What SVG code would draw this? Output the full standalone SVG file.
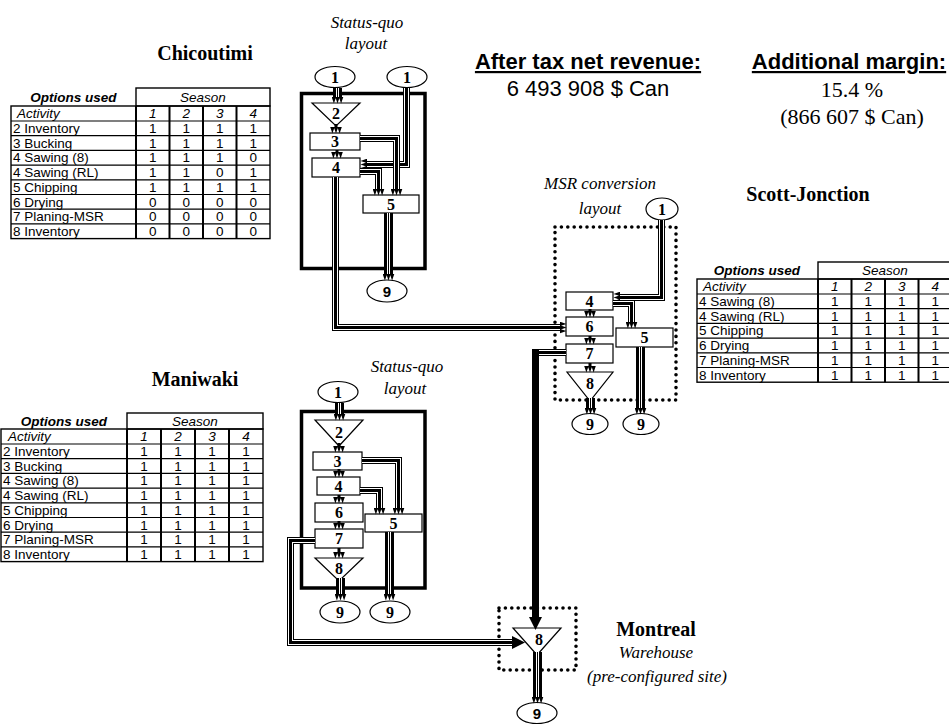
<svg xmlns="http://www.w3.org/2000/svg" width="949" height="725" viewBox="0 0 949 725">
<style>
.bg{fill:#fff}
.tb{fill:none;stroke:#000;stroke-width:1.4}
.tv{stroke:#000;stroke-width:2}
.th{stroke:#000;stroke-width:1.2}
.tt{font-family:"Liberation Sans",Arial,sans-serif;font-size:13.5px;fill:#000}
.c{text-anchor:middle}
.i{font-style:italic}
.b{font-weight:bold}
.ti{font-family:"Liberation Serif","Times New Roman",serif;font-weight:bold;font-size:20px;text-anchor:middle}
.it{font-family:"Liberation Serif","Times New Roman",serif;font-style:italic;font-size:17px;text-anchor:middle}
.hd{font-family:"Liberation Sans",Arial,sans-serif;font-weight:bold;font-size:22px;text-anchor:middle;text-decoration:underline}
.sa{font-family:"Liberation Sans",Arial,sans-serif;font-size:22px;text-anchor:middle}
.se{font-family:"Liberation Serif","Times New Roman",serif;font-size:22px;text-anchor:middle}
.fr{fill:none;stroke:#000;stroke-width:3.5}
.dt{fill:none;stroke:#000;stroke-width:3.6;stroke-dasharray:0 6.4;stroke-linecap:round}
.nd{fill:#fff;stroke:#000;stroke-width:1.2}
.nl{font-family:"Liberation Serif","Times New Roman",serif;font-weight:bold;font-size:16px;text-anchor:middle}
.ns{font-family:"Liberation Sans",Arial,sans-serif;font-weight:bold;font-size:15px;text-anchor:middle}
.k1{fill:none;stroke:#000;stroke-width:9}
.k2{fill:none;stroke:#fff;stroke-width:3}
.k3{fill:none;stroke:#000;stroke-width:1}
.ks{fill:none;stroke:#000;stroke-width:7}
.t1{fill:none;stroke:#000;stroke-width:7}
.t2{fill:none;stroke:#fff;stroke-width:5}
.t3{fill:none;stroke:#000;stroke-width:3}
.sh{fill:none;stroke:#000;stroke-width:3}
.ma{marker-end:url(#ah)}
.mb{marker-end:url(#big)}
</style>
<defs>
<marker id="ah" viewBox="0 -6 7 12" refX="0" refY="0" markerWidth="7" markerHeight="12" markerUnits="userSpaceOnUse" orient="auto">
<path d="M0,-5.8 L6.5,-3.6 L0,-1.4 Z M0,-2.2 L6.5,0 L0,2.2 Z M0,1.4 L6.5,3.6 L0,5.8 Z" fill="#000"/>
</marker>
<marker id="big" viewBox="0 -7 13 14" refX="0" refY="0" markerWidth="13" markerHeight="14" markerUnits="userSpaceOnUse" orient="auto">
<path d="M0,-6.5 L13,0 L0,6.5 Z" fill="#000"/>
</marker>
<path id="p_c1" d="M337.5,88 V97"/>
<path id="p_c4" d="M406.5,88 V164.5 H367"/>
<path id="p_c5" d="M360,138.5 H396.5 V189"/>
<path id="p_c6" d="M360,171.5 H378.5 V189"/>
<path id="p_c7" d="M388.5,213 V274"/>
<path id="p_c8" d="M335.5,177 V327.5 H560"/>
<path id="p_s1" d="M661.5,220 V297.5 H620"/>
<path id="p_s2" d="M613,303.5 H631.5 V322"/>
<path id="p_s6" d="M590.5,398 V408"/>
<path id="p_s7" d="M640.5,347 V408"/>
<path id="p_s8" d="M566,352.5 H538"/>
<path id="p_m1" d="M339.5,403 V414"/>
<path id="p_m7" d="M340.5,578 V594"/>
<path id="p_m8" d="M362,460.5 H398.5 V508"/>
<path id="p_m9" d="M360,490.5 H379.5 V508"/>
<path id="p_m10" d="M389.5,532 V594"/>
<path id="p_m11" d="M315,540.5 H290.5 V642.5 H512"/>
<path id="p_w1" d="M537.5,652 V697"/>
</defs>
<rect class="bg" x="0" y="0" width="949" height="725"/>

<g id="results">
<text class="hd" x="588" y="69">After tax net revenue:</text>
<text class="sa" x="588" y="96">6 493 908 $ Can</text>
<text class="hd" x="849" y="69">Additional margin:</text>
<text class="se" x="852" y="97">15.4 %</text>
<text class="se" x="852" y="124">(866 607 $ Can)</text>
</g>

<g id="titles">
<text class="ti" x="205" y="60">Chicoutimi</text>
<text class="it" x="367" y="28">Status-quo</text>
<text class="it" x="366" y="49">layout</text>
<text class="it" x="600" y="189">MSR conversion</text>
<text class="it" x="600" y="214">layout</text>
<text class="ti" x="808" y="201">Scott-Jonction</text>
<text class="ti" x="195" y="386">Maniwaki</text>
<text class="it" x="407" y="372">Status-quo</text>
<text class="it" x="405" y="394">layout</text>
<text class="ti" x="656" y="636">Montreal</text>
<text class="it" x="656" y="658">Warehouse</text>
<text class="it" x="657" y="682">(pre-configured site)</text>
</g>

<g id="table-chicoutimi">
<rect class="tb" x="136" y="88" width="134" height="18"/>
<rect class="tb" x="11" y="106" width="259" height="132.6"/>
<path class="th" d="M11,121 H270 M11,135.7 H270 M11,150.4 H270 M11,165.1 H270 M11,179.8 H270 M11,194.5 H270 M11,209.2 H270 M11,223.9 H270"/>
<path class="tv" d="M136,106 V238.6 M169.5,106 V238.6 M203,106 V238.6 M236.5,106 V238.6"/>
<text class="tt b i c" x="73.5" y="101.5">Options used</text>
<text class="tt i c" x="203" y="101.5">Season</text>
<text class="tt i" x="17" y="118">Activity</text>
<text class="tt i c" x="152.75" y="118">1</text><text class="tt i c" x="186.25" y="118">2</text><text class="tt i c" x="219.75" y="118">3</text><text class="tt i c" x="253.25" y="118">4</text>
<text class="tt" x="13" y="133">2 Inventory</text>
<text class="tt c" x="152.75" y="133">1</text><text class="tt c" x="186.25" y="133">1</text><text class="tt c" x="219.75" y="133">1</text><text class="tt c" x="253.25" y="133">1</text>
<text class="tt" x="13" y="147.7">3 Bucking</text>
<text class="tt c" x="152.75" y="147.7">1</text><text class="tt c" x="186.25" y="147.7">1</text><text class="tt c" x="219.75" y="147.7">1</text><text class="tt c" x="253.25" y="147.7">1</text>
<text class="tt" x="13" y="162.4">4 Sawing (8)</text>
<text class="tt c" x="152.75" y="162.4">1</text><text class="tt c" x="186.25" y="162.4">1</text><text class="tt c" x="219.75" y="162.4">1</text><text class="tt c" x="253.25" y="162.4">0</text>
<text class="tt" x="13" y="177.1">4 Sawing (RL)</text>
<text class="tt c" x="152.75" y="177.1">1</text><text class="tt c" x="186.25" y="177.1">1</text><text class="tt c" x="219.75" y="177.1">0</text><text class="tt c" x="253.25" y="177.1">1</text>
<text class="tt" x="13" y="191.8">5 Chipping</text>
<text class="tt c" x="152.75" y="191.8">1</text><text class="tt c" x="186.25" y="191.8">1</text><text class="tt c" x="219.75" y="191.8">1</text><text class="tt c" x="253.25" y="191.8">1</text>
<text class="tt" x="13" y="206.5">6 Drying</text>
<text class="tt c" x="152.75" y="206.5">0</text><text class="tt c" x="186.25" y="206.5">0</text><text class="tt c" x="219.75" y="206.5">0</text><text class="tt c" x="253.25" y="206.5">0</text>
<text class="tt" x="13" y="221.2">7 Planing-MSR</text>
<text class="tt c" x="152.75" y="221.2">0</text><text class="tt c" x="186.25" y="221.2">0</text><text class="tt c" x="219.75" y="221.2">0</text><text class="tt c" x="253.25" y="221.2">0</text>
<text class="tt" x="13" y="235.9">8 Inventory</text>
<text class="tt c" x="152.75" y="235.9">0</text><text class="tt c" x="186.25" y="235.9">0</text><text class="tt c" x="219.75" y="235.9">0</text><text class="tt c" x="253.25" y="235.9">0</text>
</g>

<g id="table-maniwaki">
<rect class="tb" x="127" y="413" width="136" height="16"/>
<rect class="tb" x="1" y="429" width="262" height="132.6"/>
<path class="th" d="M1,444 H263 M1,458.7 H263 M1,473.4 H263 M1,488.1 H263 M1,502.8 H263 M1,517.5 H263 M1,532.2 H263 M1,546.9 H263"/>
<path class="tv" d="M127,429 V561.6 M161,429 V561.6 M195,429 V561.6 M229,429 V561.6"/>
<text class="tt b i c" x="64" y="425.5">Options used</text>
<text class="tt i c" x="195" y="425.5">Season</text>
<text class="tt i" x="8" y="441">Activity</text>
<text class="tt i c" x="144" y="441">1</text><text class="tt i c" x="178" y="441">2</text><text class="tt i c" x="212" y="441">3</text><text class="tt i c" x="246" y="441">4</text>
<text class="tt" x="3" y="456">2 Inventory</text>
<text class="tt c" x="144" y="456">1</text><text class="tt c" x="178" y="456">1</text><text class="tt c" x="212" y="456">1</text><text class="tt c" x="246" y="456">1</text>
<text class="tt" x="3" y="470.7">3 Bucking</text>
<text class="tt c" x="144" y="470.7">1</text><text class="tt c" x="178" y="470.7">1</text><text class="tt c" x="212" y="470.7">1</text><text class="tt c" x="246" y="470.7">1</text>
<text class="tt" x="3" y="485.4">4 Sawing (8)</text>
<text class="tt c" x="144" y="485.4">1</text><text class="tt c" x="178" y="485.4">1</text><text class="tt c" x="212" y="485.4">1</text><text class="tt c" x="246" y="485.4">1</text>
<text class="tt" x="3" y="500.1">4 Sawing (RL)</text>
<text class="tt c" x="144" y="500.1">1</text><text class="tt c" x="178" y="500.1">1</text><text class="tt c" x="212" y="500.1">1</text><text class="tt c" x="246" y="500.1">1</text>
<text class="tt" x="3" y="514.8">5 Chipping</text>
<text class="tt c" x="144" y="514.8">1</text><text class="tt c" x="178" y="514.8">1</text><text class="tt c" x="212" y="514.8">1</text><text class="tt c" x="246" y="514.8">1</text>
<text class="tt" x="3" y="529.5">6 Drying</text>
<text class="tt c" x="144" y="529.5">1</text><text class="tt c" x="178" y="529.5">1</text><text class="tt c" x="212" y="529.5">1</text><text class="tt c" x="246" y="529.5">1</text>
<text class="tt" x="3" y="544.2">7 Planing-MSR</text>
<text class="tt c" x="144" y="544.2">1</text><text class="tt c" x="178" y="544.2">1</text><text class="tt c" x="212" y="544.2">1</text><text class="tt c" x="246" y="544.2">1</text>
<text class="tt" x="3" y="558.9">8 Inventory</text>
<text class="tt c" x="144" y="558.9">1</text><text class="tt c" x="178" y="558.9">1</text><text class="tt c" x="212" y="558.9">1</text><text class="tt c" x="246" y="558.9">1</text>
</g>

<g id="table-scott">
<rect class="tb" x="818" y="262" width="134" height="17"/>
<rect class="tb" x="697" y="279" width="255" height="103.2"/>
<path class="th" d="M697,294 H952 M697,308.7 H952 M697,323.4 H952 M697,338.1 H952 M697,352.8 H952 M697,367.5 H952"/>
<path class="tv" d="M818,279 V382.2 M851.5,279 V382.2 M885,279 V382.2 M918.5,279 V382.2"/>
<text class="tt b i c" x="757" y="275">Options used</text>
<text class="tt i c" x="885" y="275">Season</text>
<text class="tt i" x="703" y="291">Activity</text>
<text class="tt i c" x="834.75" y="291">1</text><text class="tt i c" x="868.25" y="291">2</text><text class="tt i c" x="901.75" y="291">3</text><text class="tt i c" x="935.25" y="291">4</text>
<text class="tt" x="699" y="306">4 Sawing (8)</text>
<text class="tt c" x="834.75" y="306">1</text><text class="tt c" x="868.25" y="306">1</text><text class="tt c" x="901.75" y="306">1</text><text class="tt c" x="935.25" y="306">1</text>
<text class="tt" x="699" y="320.7">4 Sawing (RL)</text>
<text class="tt c" x="834.75" y="320.7">1</text><text class="tt c" x="868.25" y="320.7">1</text><text class="tt c" x="901.75" y="320.7">1</text><text class="tt c" x="935.25" y="320.7">1</text>
<text class="tt" x="699" y="335.4">5 Chipping</text>
<text class="tt c" x="834.75" y="335.4">1</text><text class="tt c" x="868.25" y="335.4">1</text><text class="tt c" x="901.75" y="335.4">1</text><text class="tt c" x="935.25" y="335.4">1</text>
<text class="tt" x="699" y="350.1">6 Drying</text>
<text class="tt c" x="834.75" y="350.1">1</text><text class="tt c" x="868.25" y="350.1">1</text><text class="tt c" x="901.75" y="350.1">1</text><text class="tt c" x="935.25" y="350.1">1</text>
<text class="tt" x="699" y="364.8">7 Planing-MSR</text>
<text class="tt c" x="834.75" y="364.8">1</text><text class="tt c" x="868.25" y="364.8">1</text><text class="tt c" x="901.75" y="364.8">1</text><text class="tt c" x="935.25" y="364.8">1</text>
<text class="tt" x="699" y="379.5">8 Inventory</text>
<text class="tt c" x="834.75" y="379.5">1</text><text class="tt c" x="868.25" y="379.5">1</text><text class="tt c" x="901.75" y="379.5">1</text><text class="tt c" x="935.25" y="379.5">1</text>
</g>

<g id="frames">
<rect class="fr" x="301.5" y="93.5" width="123.5" height="175"/>
<rect class="dt" x="555" y="227" width="121" height="173"/>
<rect class="fr" x="301.5" y="411.5" width="123.5" height="176.5"/>
<rect class="dt" x="499" y="608" width="77" height="62"/>
</g>

<g id="chi-1a"><ellipse class="nd" cx="335" cy="77" rx="20" ry="10.5"/><text class="nl" x="335" y="82.5">1</text></g>
<g id="chi-1b"><ellipse class="nd" cx="407" cy="77" rx="20" ry="10.5"/><text class="nl" x="407" y="82.5">1</text></g>
<g id="chi-2"><polygon class="nd" points="312,103 360,103 336,126"/><text class="nl" x="336" y="119">2</text></g>
<g id="chi-3"><rect class="nd" x="310" y="133" width="50" height="17"/><text class="nl" x="335" y="147">3</text></g>
<g id="chi-4"><rect class="nd" x="312" y="158" width="48" height="19"/><text class="nl" x="336" y="173">4</text></g>
<g id="chi-5"><rect class="nd" x="363" y="195" width="56" height="18"/><text class="nl" x="391" y="209.5">5</text></g>
<g id="chi-9"><ellipse class="nd" cx="387" cy="291" rx="20" ry="11"/><text class="ns" x="387" y="296.5">9</text></g>

<g id="sj-1"><ellipse class="nd" cx="662" cy="209" rx="16" ry="11"/><text class="nl" x="662" y="214.5">1</text></g>
<g id="sj-4"><rect class="nd" x="566" y="292" width="47" height="18"/><text class="nl" x="589.5" y="306.5">4</text></g>
<g id="sj-6"><rect class="nd" x="566" y="317" width="47" height="19"/><text class="nl" x="589.5" y="332">6</text></g>
<g id="sj-7"><rect class="nd" x="566" y="344" width="47" height="19"/><text class="nl" x="589.5" y="359">7</text></g>
<g id="sj-8"><polygon class="nd" points="567,372 613,372 590,401"/><text class="nl" x="590" y="389">8</text></g>
<g id="sj-5"><rect class="nd" x="616" y="328" width="57" height="19"/><text class="nl" x="644.5" y="343">5</text></g>
<g id="sj-9a"><ellipse class="nd" cx="590" cy="424" rx="18" ry="10.5"/><text class="nl" x="590" y="429.5">9</text></g>
<g id="sj-9b"><ellipse class="nd" cx="641" cy="424" rx="18" ry="10.5"/><text class="nl" x="641" y="429.5">9</text></g>

<g id="man-1"><ellipse class="nd" cx="338" cy="392" rx="20" ry="10.5"/><text class="nl" x="338" y="397.5">1</text></g>
<g id="man-2"><polygon class="nd" points="315,420 363,420 339,446"/><text class="nl" x="339" y="438">2</text></g>
<g id="man-3"><rect class="nd" x="313" y="452" width="49" height="18"/><text class="nl" x="337.5" y="466.5">3</text></g>
<g id="man-4"><rect class="nd" x="317" y="477" width="43" height="18"/><text class="nl" x="338.5" y="491.5">4</text></g>
<g id="man-6"><rect class="nd" x="315" y="503" width="48" height="19"/><text class="nl" x="339" y="518">6</text></g>
<g id="man-7"><rect class="nd" x="315" y="529" width="48" height="19"/><text class="nl" x="339" y="544">7</text></g>
<g id="man-8"><polygon class="nd" points="315,558 363,558 339,581"/><text class="nl" x="339" y="574">8</text></g>
<g id="man-5"><rect class="nd" x="365" y="514" width="57" height="18"/><text class="nl" x="393.5" y="528.5">5</text></g>
<g id="man-9a"><ellipse class="nd" cx="340" cy="612" rx="20" ry="11"/><text class="nl" x="340" y="617.5">9</text></g>
<g id="man-9b"><ellipse class="nd" cx="390" cy="612" rx="20" ry="11"/><text class="nl" x="390" y="617.5">9</text></g>

<g id="mtl-8"><polygon class="nd" points="513,628 561,628 537,655"/><text class="nl" x="539" y="645">8</text></g>
<g id="mtl-9"><ellipse class="nd" cx="537" cy="713" rx="20" ry="10.5"/><text class="ns" x="537" y="718.5">9</text></g>

<g id="connectors">
<use href="#p_c1" class="k1"/><use href="#p_c1" class="k2"/><use href="#p_c1" class="k3 ma"/>
<path class="sh ma" d="M336,124 V127"/>
<path class="sh ma" d="M337,150 V152"/>
<use href="#p_c4" class="t1"/><use href="#p_c4" class="t2"/><use href="#p_c4" class="t3 ma"/>
<use href="#p_c5" class="t1"/><use href="#p_c5" class="t2"/><use href="#p_c5" class="t3 ma"/>
<use href="#p_c6" class="t1"/><use href="#p_c6" class="t2"/><use href="#p_c6" class="t3 ma"/>
<use href="#p_c7" class="k1"/><use href="#p_c7" class="k2"/><use href="#p_c7" class="k3 ma"/>
<use href="#p_c8" class="t1"/><use href="#p_c8" class="t2"/><use href="#p_c8" class="t3 ma"/>
<use href="#p_s1" class="t1"/><use href="#p_s1" class="t2"/><use href="#p_s1" class="t3 ma"/>
<use href="#p_s2" class="t1"/><use href="#p_s2" class="t2"/><use href="#p_s2" class="t3 ma"/>
<path class="sh ma" d="M590,309 V311"/>
<path class="sh ma" d="M590,336 V338"/>
<path class="sh ma" d="M590,363 V366"/>
<use href="#p_s6" class="k1"/><use href="#p_s6" class="k2"/><use href="#p_s6" class="k3 ma"/>
<use href="#p_s7" class="k1"/><use href="#p_s7" class="k2"/><use href="#p_s7" class="k3 ma"/>
<use href="#p_s8" class="t1"/><use href="#p_s8" class="t2"/><use href="#p_s8" class="t3"/>
<path class="ks mb" d="M535.5,349 V617"/>
<use href="#p_m1" class="k1"/><use href="#p_m1" class="k2"/><use href="#p_m1" class="k3 ma"/>
<path class="sh ma" d="M339,443 V446"/>
<path class="sh ma" d="M339,469 V471"/>
<path class="sh ma" d="M339,495 V497"/>
<path class="sh ma" d="M339,521 V523"/>
<path class="sh ma" d="M339,548 V552"/>
<use href="#p_m7" class="k1"/><use href="#p_m7" class="k2"/><use href="#p_m7" class="k3 ma"/>
<use href="#p_m8" class="t1"/><use href="#p_m8" class="t2"/><use href="#p_m8" class="t3 ma"/>
<use href="#p_m9" class="t1"/><use href="#p_m9" class="t2"/><use href="#p_m9" class="t3 ma"/>
<use href="#p_m10" class="k1"/><use href="#p_m10" class="k2"/><use href="#p_m10" class="k3 ma"/>
<use href="#p_m11" class="t1"/><use href="#p_m11" class="t2"/><use href="#p_m11" class="t3 mb"/>
<use href="#p_w1" class="k1"/><use href="#p_w1" class="k2"/><use href="#p_w1" class="k3 ma"/>
</g>
</svg>
